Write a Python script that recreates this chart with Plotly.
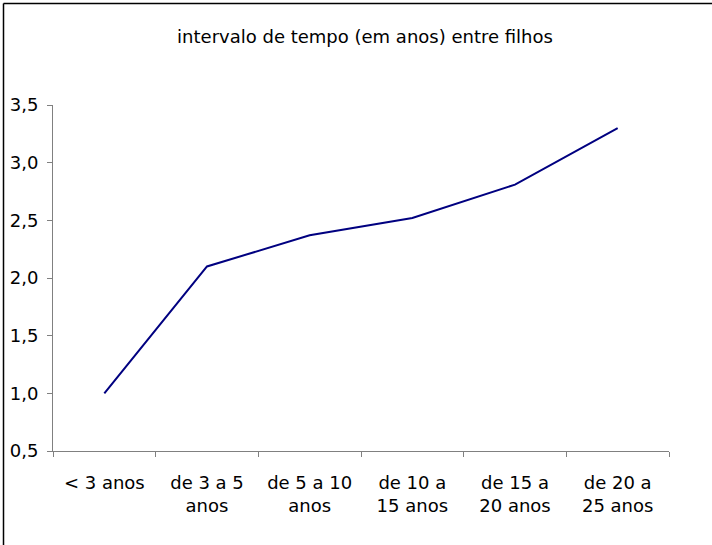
import plotly.graph_objects as go

categories = ["< 3 anos", "de 3 a 5<br>anos", "de 5 a 10<br>anos", "de 10 a<br>15 anos",
              "de 15 a<br>20 anos", "de 20 a<br>25 anos"]
values = [1.0, 2.1, 2.37, 2.52, 2.81, 3.3]
y_ticks = [0.5, 1.0, 1.5, 2.0, 2.5, 3.0, 3.5]
y_tick_labels = ["0,5", "1,0", "1,5", "2,0", "2,5", "3,0", "3,5"]
title_text = "intervalo de tempo (em anos) entre filhos"

FONT = "DejaVu Sans"
FS = 18

fig = go.Figure()
fig.add_trace(go.Scatter(
    x=categories, y=values, mode="lines",
    line=dict(color="#000080", width=2),
    showlegend=False, hoverinfo="skip",
))

W, H = 712, 545
L, R, T, B = 53, 43, 105, 94
pw, ph = W - L - R, H - T - B

def px_to_paper_x(px):
    return (px - L) / pw

def px_to_paper_y(py):
    return (H - B - py) / ph

fig.update_layout(
    width=W, height=H,
    margin=dict(l=L, r=R, t=T, b=B, pad=0, autoexpand=False),
    paper_bgcolor="white", plot_bgcolor="white",
    font=dict(family=FONT, size=FS, color="black"),
    title=dict(text=title_text, font=dict(family=FONT, size=FS, color="black"),
               xref="container", x=365 / W, xanchor="center",
               yref="container", y=1 - 37 / H, yanchor="middle"),
    xaxis=dict(
        type="category", range=[-0.5, 5.5], automargin=False,
        showline=True, linecolor="#808080", linewidth=1,
        ticks="outside", ticklen=5, tickcolor="#808080", tickwidth=1,
        tickson="boundaries", showgrid=False, zeroline=False,
        ticklabelstandoff=15,
        tickfont=dict(family=FONT, size=FS, color="black"),
    ),
    yaxis=dict(
        range=[0.5, 3.5], tickmode="array", tickvals=y_ticks, ticktext=y_tick_labels,
        automargin=False,
        showline=True, linecolor="#808080", linewidth=1,
        ticks="outside", ticklen=5, tickcolor="#808080", tickwidth=1,
        showgrid=False, zeroline=False,
        ticklabelstandoff=5,
        tickfont=dict(family=FONT, size=FS, color="black"),
    ),
    shapes=[
        dict(type="line", xref="paper", yref="paper",
             x0=px_to_paper_x(3.5), x1=px_to_paper_x(3.5),
             y0=px_to_paper_y(560), y1=px_to_paper_y(3.5),
             line=dict(color="black", width=1.5)),
        dict(type="line", xref="paper", yref="paper",
             x0=px_to_paper_x(3.5), x1=px_to_paper_x(720),
             y0=px_to_paper_y(3.5), y1=px_to_paper_y(3.5),
             line=dict(color="black", width=1.5)),
    ],
)

fig.write_html(
    "out.html",
    config={"displayModeBar": False},
    post_script="document.body.style.margin='0';document.body.style.overflow='hidden';",
)
